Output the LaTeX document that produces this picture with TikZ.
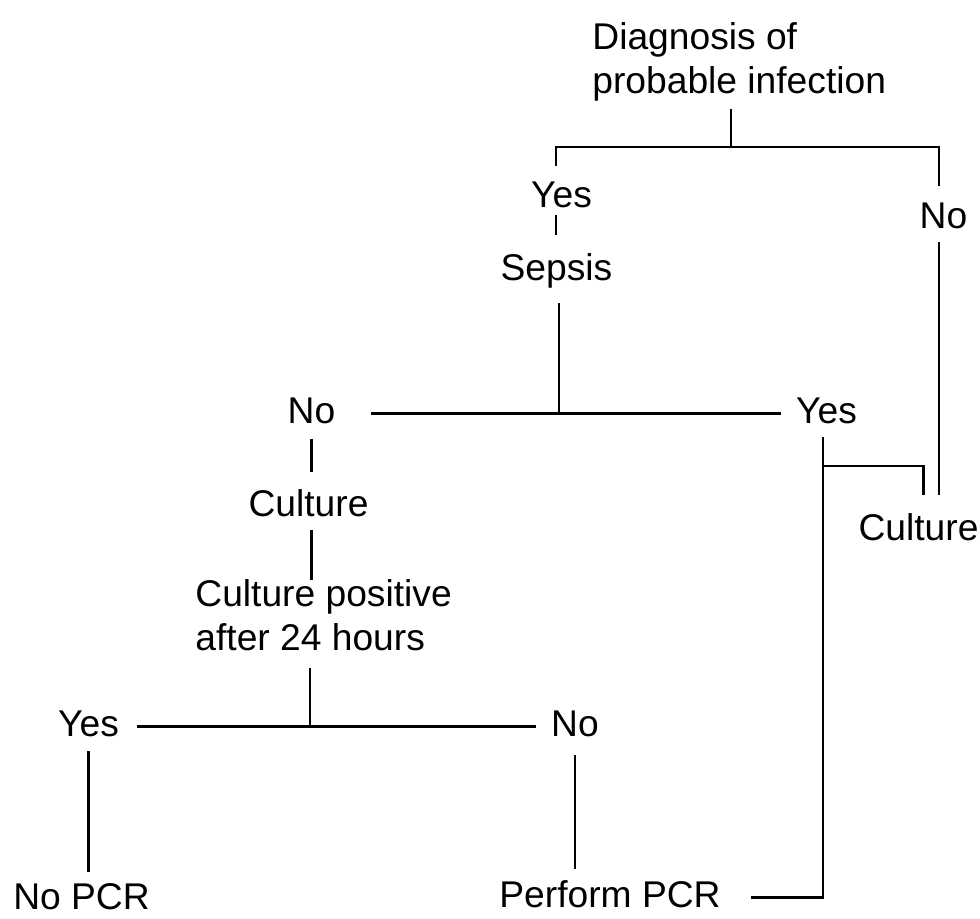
\documentclass[tikz,border=0pt]{standalone}
\usepackage{fontspec}
\setmainfont{Liberation Sans}
\usepackage{tikz}
\usetikzlibrary{positioning,calc}

\begin{document}
\begin{tikzpicture}[x=0.5pt, y=-0.5pt,
    lbl/.style={font=\fontsize{18.6}{22}\selectfont, inner sep=0pt, text height=13.4pt, text depth=3.9pt, anchor=base},
    blk/.style={font=\fontsize{18.6}{22}\selectfont, inner sep=0pt, align=left, anchor=north west},
    ln/.style={line width=1.3pt}]
  \useasboundingbox (0,0) rectangle (980,918);

  % Labels
  \node[blk] (root) at (592, 22.5) {Diagnosis of\\probable infection};
  \node[lbl] (yes1) at (561.5, 207) {Yes};
  \node[lbl] (no1) at (943.5, 228) {No};
  \node[lbl] (sepsis) at (556.5, 280) {Sepsis};
  \node[lbl] (no2) at (311.5, 423) {No};
  \node[lbl] (yes2) at (826.5, 423) {Yes};
  \node[lbl] (culL) at (308.5, 516) {Culture};
  \node[lbl] (culR) at (918.5, 540) {Culture};
  \node[blk] (cpos) at (195, 579.5) {Culture positive\\after 24 hours};
  \node[lbl] (yes3) at (88.5, 736) {Yes};
  \node[lbl] (no3) at (575, 736) {No};
  \node[lbl, text depth=0pt] (nopcr) at (81.5, 909) {No PCR};
  \node[lbl] (perform) at (610, 907) {Perform PCR};

  % Junctions
  \coordinate (b1) at (731, 147);
  \coordinate (bL) at (556, 147);
  \coordinate (bR) at (939, 147);
  \coordinate (s1) at (559, 414);
  \coordinate (c3) at (310, 725);
  \coordinate (v1) at (823, 466);

  % Connections
  \draw[ln, shorten <=3.5pt] (root.south -| b1) -- (b1);
  \draw[ln, shorten <=7pt, shorten >=7.5pt] (yes1.north -| bL) -- (bL) -- (bR) -- (no1.north -| bR);
  \draw[ln, shorten >=9pt] (yes1.south -| bL) -- (sepsis.north -| bL);
  \draw[ln, shorten <=7.5pt] (sepsis.south -| s1) -- (s1);
  \draw[ln, shorten <=17.5pt, shorten >=7.5pt] (no2.east) -- (yes2.west);
  \draw[ln, shorten <=4pt, shorten >=8.5pt] (no2.south) -- (no2.south |- culL.north);
  \draw[ln, shorten <=3pt] (no2.south |- culL.south) -- (no2.south |- cpos.north);
  \draw[ln, shorten <=8pt] (cpos.south -| c3) -- (c3);
  \draw[ln, shorten <=9pt, shorten >=7.5pt] (yes3.east) -- (no3.west);
  \draw[ln, shorten <=3.5pt, shorten >=5pt] (yes3.south) -- (yes3.south |- nopcr.north);
  \draw[ln, shorten <=5.5pt, shorten >=5.5pt] (no3.south) -- (no3.south |- perform.north);
  \draw[ln, shorten <=15pt, shorten >=3pt] (perform.east) -| (v1) -- (v1 |- yes2.south);
  \draw[ln, shorten >=9pt] (v1) -| ([xshift=2.5pt]culR.north);
  \draw[ln, shorten <=3pt, shorten >=9pt] (no1.south -| bR) -- (bR |- culR.north);
\end{tikzpicture}
\end{document}
